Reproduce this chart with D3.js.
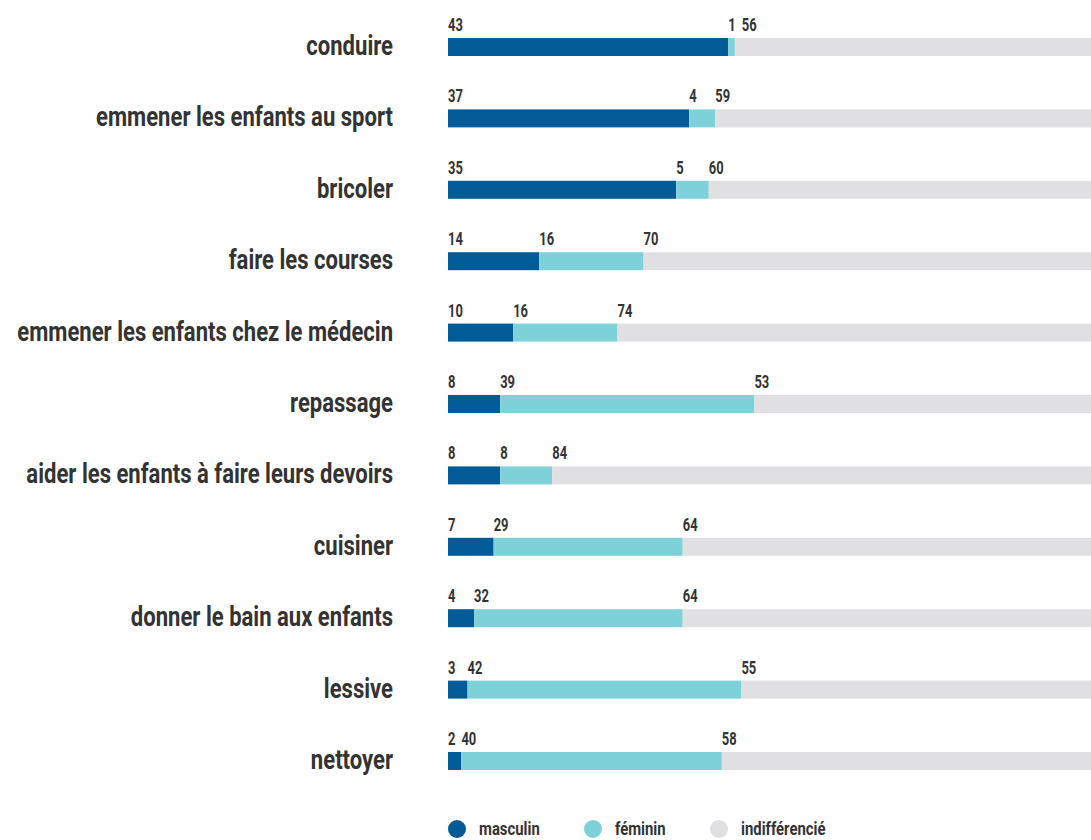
<!DOCTYPE html>
<html>
<head>
<meta charset="utf-8">
<script src="https://cdn.jsdelivr.net/npm/d3@7"></script>
<style>
  body { margin: 0; background: #fff; overflow: hidden; }
  svg text { font-family: Roboto, "Liberation Sans", sans-serif; font-weight: bold; fill: #333; }
</style>
</head>
<body>
<div id="chart"></div>
<script>
// data (percentages)
const categories = ["conduire", "emmener les enfants au sport", "bricoler", "faire les courses",
  "emmener les enfants chez le médecin", "repassage", "aider les enfants à faire leurs devoirs",
  "cuisiner", "donner le bain aux enfants", "lessive", "nettoyer"]
const masculin = [43, 37, 35, 14, 10, 8, 8, 7, 4, 3, 2]
const feminin = [1, 4, 5, 16, 16, 39, 8, 29, 32, 42, 40]
const indifferencie = [56, 59, 60, 70, 74, 53, 84, 64, 64, 55, 58]
const seriesNames = ["masculin", "féminin", "indifférencié"]
const colors = ["#005b97", "#7fd1d9", "#e0e0e2"]

const width = 1091, height = 840
const labelRight = 393, labelLeft = 17

const svg = d3.select("#chart").append("svg")
  .attr("width", width)
  .attr("height", height)

const x = d3.scaleLinear().domain([0, 100]).range([448, 1100])
const y = d3.scaleBand().domain(categories).range([38, 770]).paddingInner(0.748).paddingOuter(0)

const rows = categories.map((c, i) => ({ cat: c, vals: [masculin[i], feminin[i], indifferencie[i]] }))

// no condensed font installed, so squeeze the text horizontally
function squeezed(sel, px, py, f) {
  sel.attr("transform", `translate(${px},${py}) scale(${f},1)`)
}

// category labels
const cats = svg.selectAll(".cat").data(rows).enter()
  .append("text")
  .attr("class", "cat")
  .attr("text-anchor", "end")
  .style("font-size", "27px")
  .text(d => d.cat)

// fit the longest label between labelLeft and labelRight
const longest = d3.max(cats.nodes(), n => n.getComputedTextLength())
const catF = (labelRight - labelLeft) / longest
cats.each(function (d) {
  squeezed(d3.select(this), labelRight, y(d.cat) + y.bandwidth() / 2 + 8, catF)
})

const numF = 0.74

rows.forEach(row => {
  let start = 0
  let prevEnd = -Infinity
  row.vals.forEach((v, k) => {
    svg.append("rect")
      .attr("x", x(start))
      .attr("y", y(row.cat))
      .attr("width", x(start + v) - x(start))
      .attr("height", y.bandwidth())
      .attr("fill", colors[k])
    // value label at segment start, nudged right if it would touch the previous one
    const t = svg.append("text")
      .style("font-size", "17.5px")
      .text(v)
    const lx = Math.max(x(start), prevEnd + 6)
    squeezed(t, lx, y(row.cat) - 7, numF)
    prevEnd = lx + t.node().getComputedTextLength() * numF
    start += v
  })
})

// legend
const legendX = [457, 593, 719]
const legend = svg.selectAll(".legend").data(seriesNames).enter()
  .append("g")
  .attr("class", "legend")
  .attr("transform", (d, i) => `translate(${legendX[i]},829)`)

legend.append("circle")
  .attr("r", 9)
  .attr("fill", (d, i) => colors[i])

legend.append("text")
  .style("font-size", "17.5px")
  .attr("transform", "translate(22,6) scale(0.85,1)")
  .text(d => d)
</script>
</body>
</html>
